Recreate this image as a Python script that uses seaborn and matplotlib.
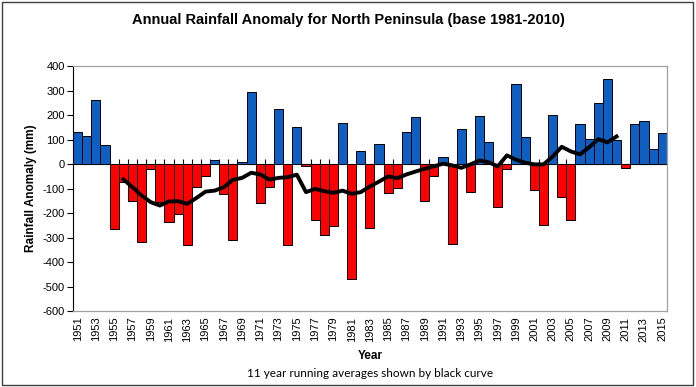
import numpy as np
import pandas as pd
import matplotlib
matplotlib.use('Agg')
import matplotlib.pyplot as plt
import seaborn as sns

# annual rainfall anomaly (mm)
years = list(range(1951, 2016))
anomaly = [133, 116, 263, 79, -263, -71, -151, -319, -19, -155,
           -238, -204, -332, -95, -49, 16, -123, -311, 8, 296,
           -159, -95, 226, -332, 153, -8, -226, -291, -251, 168,
           -470, 53, -262, 82, -118, -99, 131, 192, -151, -49,
           30, -327, 144, -114, 196, 90, -173, -20, 326, 112,
           -104, -247, 200, -133, -226, 163, 104, 248, 346, 97,
           -15, 166, 177, 60, 127]

# 11 year running average (black curve)
avg_years = list(range(1956, 2011))
running_avg = [-62, -94, -128, -155, -169, -152, -151, -162, -138, -112,
               -108, -94, -64, -56, -35, -42, -63, -56, -53, -43,
               -114, -101, -110, -117, -108, -121, -114, -91, -71, -50,
               -57, -42, -30, -19, -9, 2, -5, -15, -1, 15,
               8, -9, 36, 18, 6, -1, -1, 31, 71, 52,
               40, 69, 102, 89, 113]

y_ticks = list(range(-600, 401, 100))
label_years = years[::2]

df = pd.DataFrame({'year': years, 'anomaly': anomaly})
df['sign'] = np.where(df['anomaly'] >= 0, 'pos', 'neg')
avg = pd.DataFrame({'year': avg_years, 'avg': running_avg})

plt.rcParams['font.family'] = ['Liberation Sans', 'DejaVu Sans']

fig = plt.figure(figsize=(6.96, 3.87), dpi=100)
ax = fig.add_axes([0.105, 0.196, 0.853, 0.633])

palette = {'pos': '#0f5fc2', 'neg': '#ff0000'}
sns.barplot(data=df, x='year', y='anomaly', hue='sign', palette=palette,
            dodge=False, native_scale=True, width=1.0, legend=False,
            saturation=1, edgecolor='black', linewidth=0.7, ax=ax)
sns.lineplot(data=avg, x='year', y='avg', color='black', linewidth=2.8, ax=ax)

ax.set_xlim(years[0] - 0.5, years[-1] + 0.5)
ax.set_ylim(-600, 400)
ax.set_yticks(y_ticks)
ax.set_yticklabels([str(v) for v in y_ticks], fontsize=8)
ax.set_xticks(label_years)
ax.set_xticklabels([str(v) for v in label_years], rotation=90, fontsize=8)
ax.tick_params(axis='x', length=0, pad=4)
ax.tick_params(axis='y', length=4, width=0.8, direction='out', pad=2)

for s in ['top', 'right', 'bottom']:
    ax.spines[s].set_color('#a0a0a0')
    ax.spines[s].set_linewidth(0.9)
ax.spines['left'].set_color('black')
ax.spines['left'].set_linewidth(0.8)

# category axis crossing at zero with ticks between bars
zero_frac = (0 - (-600)) / (400 - (-600))
sec = ax.secondary_xaxis(zero_frac)
sec.set_xticks([y - 0.5 for y in years[1:]])
sec.set_xticklabels([])
sec.tick_params(axis='x', direction='out', length=3.5, width=0.8, color='black')
sec.spines['bottom'].set_color('black')
sec.spines['bottom'].set_linewidth(0.9)

ax.set_ylabel('Rainfall Anomaly (mm)', fontsize=8.5, fontweight='bold', labelpad=4)
ax.set_xlabel('Year', fontsize=8.5, fontweight='bold', labelpad=6)

fig.text(0.5, 0.948, 'Annual Rainfall Anomaly for North Peninsula (base 1981-2010)',
         ha='center', va='center', fontsize=10.5, fontweight='bold')
fig.text(0.531, 0.036, '11 year running averages shown by black curve',
         ha='center', va='center', fontsize=8.5, family=['Lato', 'DejaVu Sans'])

fig.add_artist(plt.Rectangle((0.003, 0.004), 0.993, 0.99, transform=fig.transFigure,
                             fill=False, edgecolor='#404040', linewidth=1.0))

fig.savefig('out.png', dpi=100)
